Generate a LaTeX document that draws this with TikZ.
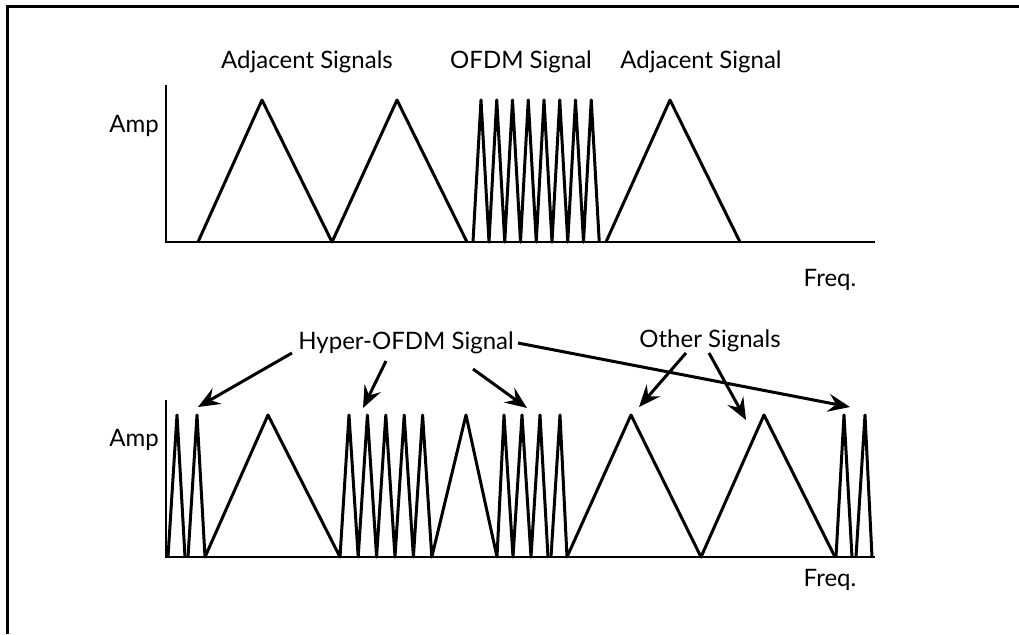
\documentclass[tikz,border=0pt]{standalone}
\usepackage{fontspec}
\setmainfont{Lato}
\usetikzlibrary{arrows.meta}
\begin{document}
\begin{tikzpicture}[
        x = 0.5pt, % one unit per pixel
        y = -0.5pt, % y runs downwards
        font = \fontsize{12}{14}\selectfont, % label size
        semithick
      ]

      \tikzstyle{sig}=[line width=1.5pt, line join=round]
      \tikzstyle{axis}=[line width=1.2pt]
      \tikzstyle{pointer}=[line width=1.5pt, -{Stealth[length=11pt,width=9pt,inset=4pt]}]

      \useasboundingbox (0,0) rectangle (1019,634);
      \draw[line width=1.5pt] (7,634) -- (7,6) -- (1019,6);

      % upper spectrum
      \draw[axis] (166,85) -- (166,242) -- (875,242);
      \draw[sig] (198,242) -- (262,100) -- (332,242) -- (397,100) -- (467,242);
      \draw[sig] (473,242) \foreach \i in {0,...,7} { -- ({481+15.75*\i},100) -- ({489+15.75*\i},242) };
      \draw[sig] (606,242) -- (670,100) -- (740,242);

      \node (adj1) at (307,62) {Adjacent Signals};
      \node (ofdm) at (521,62) {OFDM Signal};
      \node (adj2) at (701,62) {Adjacent Signal};
      \node (amp1) at (134,126) {Amp};
      \node (freq1) at (830,280) {Freq.};

      % lower spectrum
      \draw[axis] (166,400) -- (166,557) -- (875,557);
      \draw[sig] (168,557) -- (177,415) -- (185,557);
      \draw[sig] (188,557) -- (197,415) -- (205,557) -- (268,415) -- (340,557)
        \foreach \i in {0,...,4} { -- ({349+18.4*\i},415) -- ({358.2+18.4*\i},557) }
        -- (466,415) -- (497,557) -- (504,415) -- (513,557) -- (522,415) -- (531,557)
        -- (540,415) -- (548,557);
      \draw[sig] (551,557) -- (560,415) -- (567,557) -- (631,415) -- (701,557)
        -- (764,415) -- (835,557);
      \draw[sig] (836,557) -- (844,415) -- (852,557);
      \draw[sig] (856,557) -- (865,415) -- (872,557);

      \node (amp2) at (134,440) {Amp};
      \node (freq2) at (830,580) {Freq.};
      \node (hyper) at (406,343) {Hyper-OFDM Signal};
      \node (other) at (710,341) {Other Signals};

      % pointer ends
      \coordinate (hs1) at (292,353);
      \coordinate (hs2) at (386,361);
      \coordinate (hs3) at (473,369);
      \coordinate (hs4) at (518,343);
      \coordinate (os1) at (686,353);
      \coordinate (os2) at (709,353);
      \coordinate (ht1) at (198,407);
      \coordinate (ht2) at (363,408);
      \coordinate (ht3) at (527,408);
      \coordinate (ht4) at (850,407);
      \coordinate (ot1) at (639,407);
      \coordinate (ot2) at (746,420);

      \draw[pointer] (hs1) -- (ht1);
      \draw[pointer] (hs2) -- (ht2);
      \draw[pointer] (hs3) -- (ht3);
      \draw[pointer] (hs4) -- (ht4);
      \draw[pointer] (os1) -- (ot1);
      \draw[pointer] (os2) -- (ot2);

    \end{tikzpicture}
\end{document}
